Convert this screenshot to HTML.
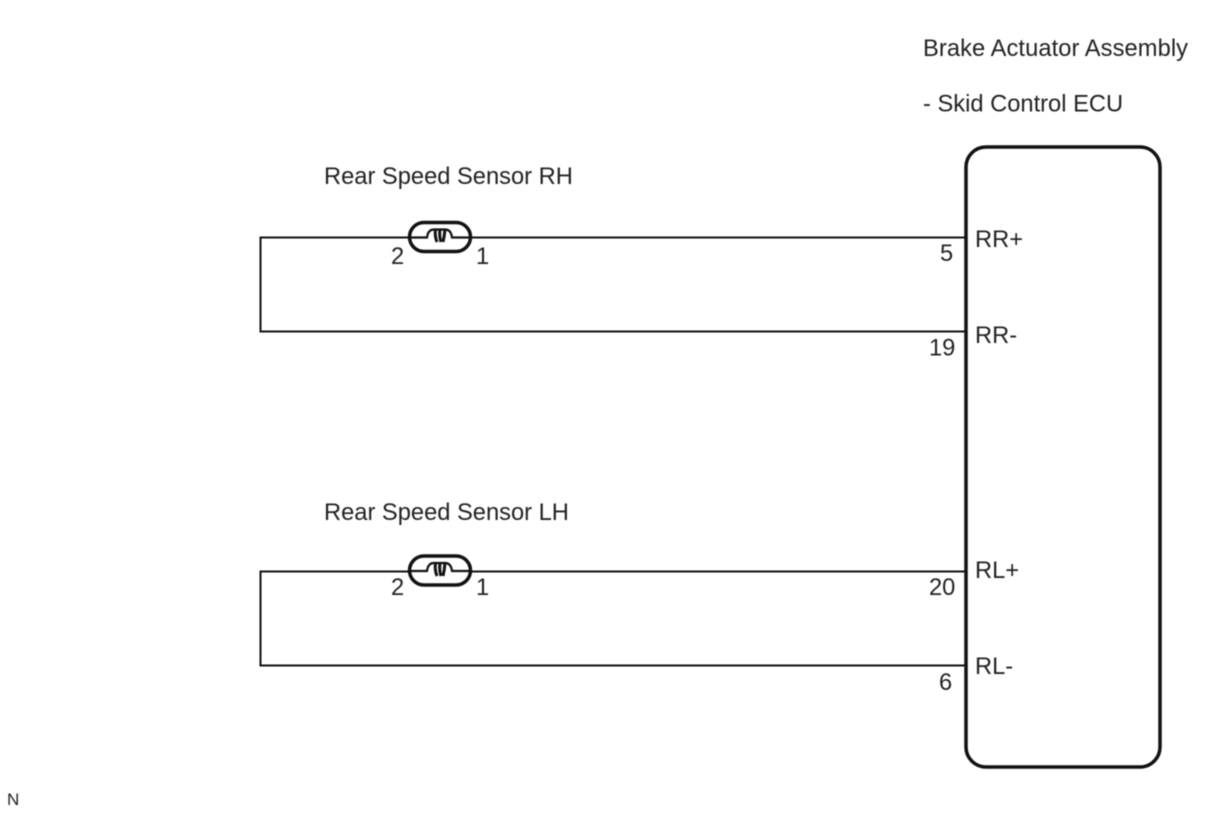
<!DOCTYPE html>
<html>
<head>
<meta charset="utf-8">
<style>
html,body{margin:0;padding:0;background:#fff;width:1210px;height:814px;overflow:hidden}
svg{display:block;filter:blur(0.4px)}
text{font-family:"Liberation Sans",Arial,sans-serif;font-size:23.7px;fill:#222}
</style>
</head>
<body>
<svg width="1210" height="814" viewBox="0 0 1210 814" xmlns="http://www.w3.org/2000/svg">
<rect x="966" y="147" width="194" height="620" rx="20" ry="20" fill="#fff" stroke="#111" stroke-width="3.500"/>
<g fill="none" stroke="#111" stroke-width="2">
<path d="M965 237.500H260.500V331.500H965"/>
<path d="M965 571.500H260.500V665.500H965"/>
</g>
<g fill="none" stroke="#111">
<rect x="409.500" y="222.500" width="61" height="29" rx="14.500" fill="#fff" stroke-width="3.500"/>
<path d="M410 237.500H427q1-8 7-8h11q6 0 7 8H470" stroke-width="2.200"/>
<path d="M435.500 229q-1 7 1.500 13M440 229q-1 7 1 13M445 229q-.5 7-2 13" stroke-width="3"/>
<rect x="409.500" y="556" width="61" height="29" rx="14.500" fill="#fff" stroke-width="3.500"/>
<path d="M410 571H427q1-8 7-8h11q6 0 7 8H470" stroke-width="2.200"/>
<path d="M435.500 563q-1 7 1.500 13M440 563q-1 7 1 13M445 563q-.5 7-2 13" stroke-width="3"/>
</g>
<text x="923" y="56" textLength="265">Brake Actuator Assembly</text>
<text x="923" y="111.500">- Skid Control ECU</text>
<text x="324" y="184">Rear Speed Sensor RH</text>
<text x="324" y="520">Rear Speed Sensor LH</text>
<text x="391" y="264">2</text>
<text x="476" y="264">1</text>
<text x="391" y="595">2</text>
<text x="476" y="595">1</text>
<text x="940" y="261">5</text>
<text x="929" y="355.500">19</text>
<text x="929" y="595">20</text>
<text x="939" y="690">6</text>
<text x="975" y="247">RR+</text>
<text x="975" y="343">RR-</text>
<text x="975" y="578">RL+</text>
<text x="975" y="674">RL-</text>
<text x="7" y="805" style="font-size:17px">N</text>
</svg>
</body>
</html>
